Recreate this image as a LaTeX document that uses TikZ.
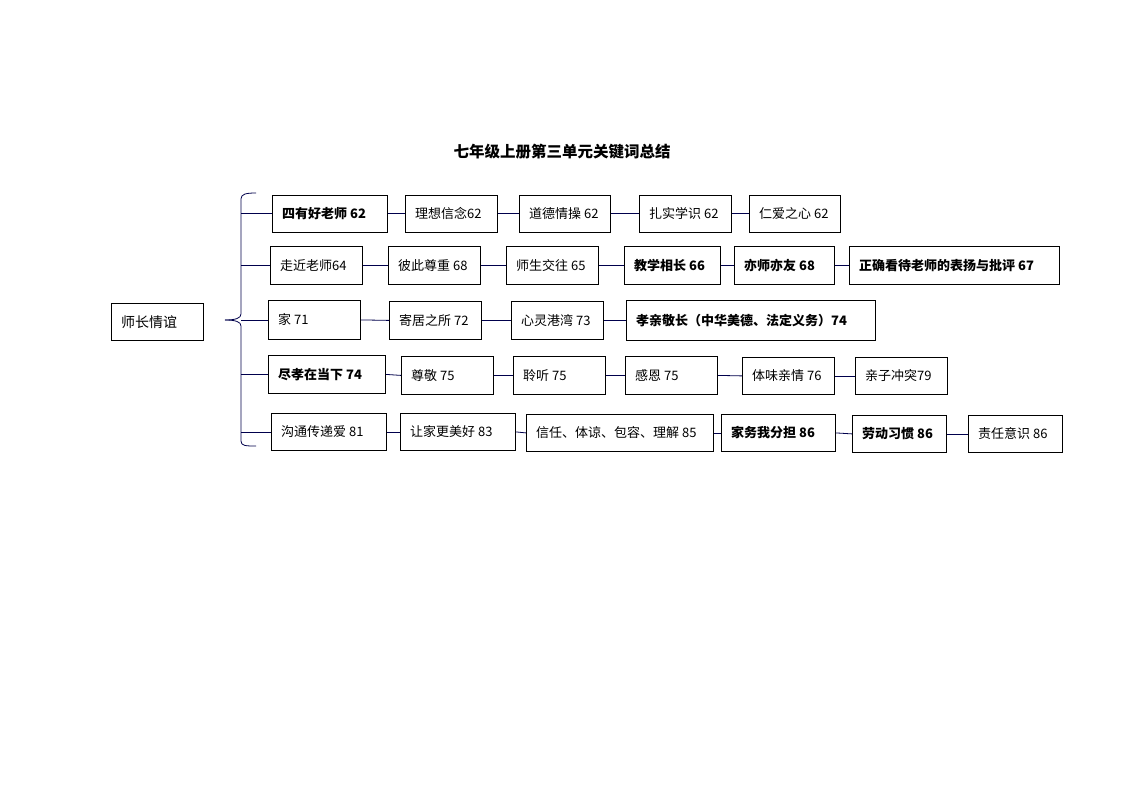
\documentclass[tikz,border=0pt]{standalone}
\usepackage{fontspec}
\setmainfont{Noto Sans CJK SC}
\begin{document}
\begin{tikzpicture}[x=1pt,y=-1pt,
  bx/.style={draw=black,line width=0.8pt,anchor=north west,inner sep=0pt},
  ln/.style={draw=black!70!blue,line width=0.8pt}]
\useasboundingbox[fill=white] (0,0) rectangle (1123,794);
\newcommand{\bxn}[7]{% name, x1, y1, x2, y2, bold?, text
  \node[bx,minimum width=#4-#2,minimum height=#5-#3] (#1) at (#2,#3) {};
  \node[anchor=west,inner sep=0pt,font=\fontsize{13}{15}\selectfont#6] at ([xshift=10pt]#1.west) {#7};}
\node[font=\bfseries\fontsize{15.5}{17}\selectfont] (title) at (562,152) {七年级上册第三单元关键词总结};
\bxn{root}{111}{303}{203}{340}{}{\fontsize{14}{16}\selectfont 师长情谊}
% row1
\bxn{a1}{272}{195}{387}{232}{\bfseries}{四有好老师 62}
\bxn{a2}{405}{195}{497}{232}{}{理想信念62}
\bxn{a3}{519}{195}{610}{232}{}{道德情操 62}
\bxn{a4}{639}{195}{731}{232}{}{扎实学识 62}
\bxn{a5}{749}{195}{840}{232}{}{仁爱之心 62}
% row2
\bxn{b1}{270}{246}{362}{284}{}{走近老师64}
\bxn{b2}{388}{246}{480}{284}{}{彼此尊重 68}
\bxn{b3}{506}{246}{598}{284}{}{师生交往 65}
\bxn{b4}{624}{246}{720}{284}{\bfseries}{教学相长 66}
\bxn{b5}{734}{246}{834}{284}{\bfseries}{亦师亦友 68}
\bxn{b6}{849}{246}{1059}{284}{\bfseries}{正确看待老师的表扬与批评 67}
% row3
\bxn{c1}{268}{300}{360}{339}{}{家 71}
\bxn{c2}{389}{301}{481}{339}{}{寄居之所 72}
\bxn{c3}{511}{301}{603}{339}{}{心灵港湾 73}
\bxn{c4}{626}{300}{875}{340}{\bfseries}{孝亲敬长（中华美德、法定义务）74}
% row4
\bxn{d1}{268}{355}{385}{393}{\bfseries}{尽孝在当下 74}
\bxn{d2}{401}{356}{493}{394}{}{尊敬 75}
\bxn{d3}{513}{356}{605}{394}{}{聆听 75}
\bxn{d4}{625}{356}{717}{394}{}{感恩 75}
\bxn{d5}{742}{357}{834}{394}{}{体味亲情 76}
\bxn{d6}{855}{357}{947}{394}{}{亲子冲突79}
% row5
\bxn{e1}{271}{413}{386}{450}{}{沟通传递爱 81}
\bxn{e2}{400}{413}{515}{450}{}{让家更美好 83}
\bxn{e3}{526}{414}{713}{451}{}{信任、体谅、包容、理解 85}
\bxn{e4}{721}{414}{835}{451}{\bfseries}{家务我分担 86}
\bxn{e5}{852}{415}{946}{452}{\bfseries}{劳动习惯 86}
\bxn{e6}{968}{415}{1062}{452}{}{责任意识 86}
% chains
\foreach \r/\n in {a/5,b/6,c/4,d/6,e/6}{
  \pgfmathtruncatemacro{\m}{\n-1}
  \foreach \i in {1,...,\m}{
    \pgfmathtruncatemacro{\j}{\i+1}
    \draw[ln] (\r\i.east) -- (\r\j.west);
  }}
% brace
\coordinate (tip) at (225,320);
\draw[ln] (256,193) .. controls (246,193) and (241,194) .. (241,199) -- (241,314) .. controls (241,318) and (236,320) .. (tip);
\draw[ln] (tip) .. controls (236,320) and (241,322) .. (241,326) -- (241,441) .. controls (241,446) and (246,446) .. (256,446);
\foreach \t in {a1,b1,c1,d1,e1}{\draw[ln] (241,0 |- \t.west) -- (\t.west);}
\end{tikzpicture}
\end{document}
